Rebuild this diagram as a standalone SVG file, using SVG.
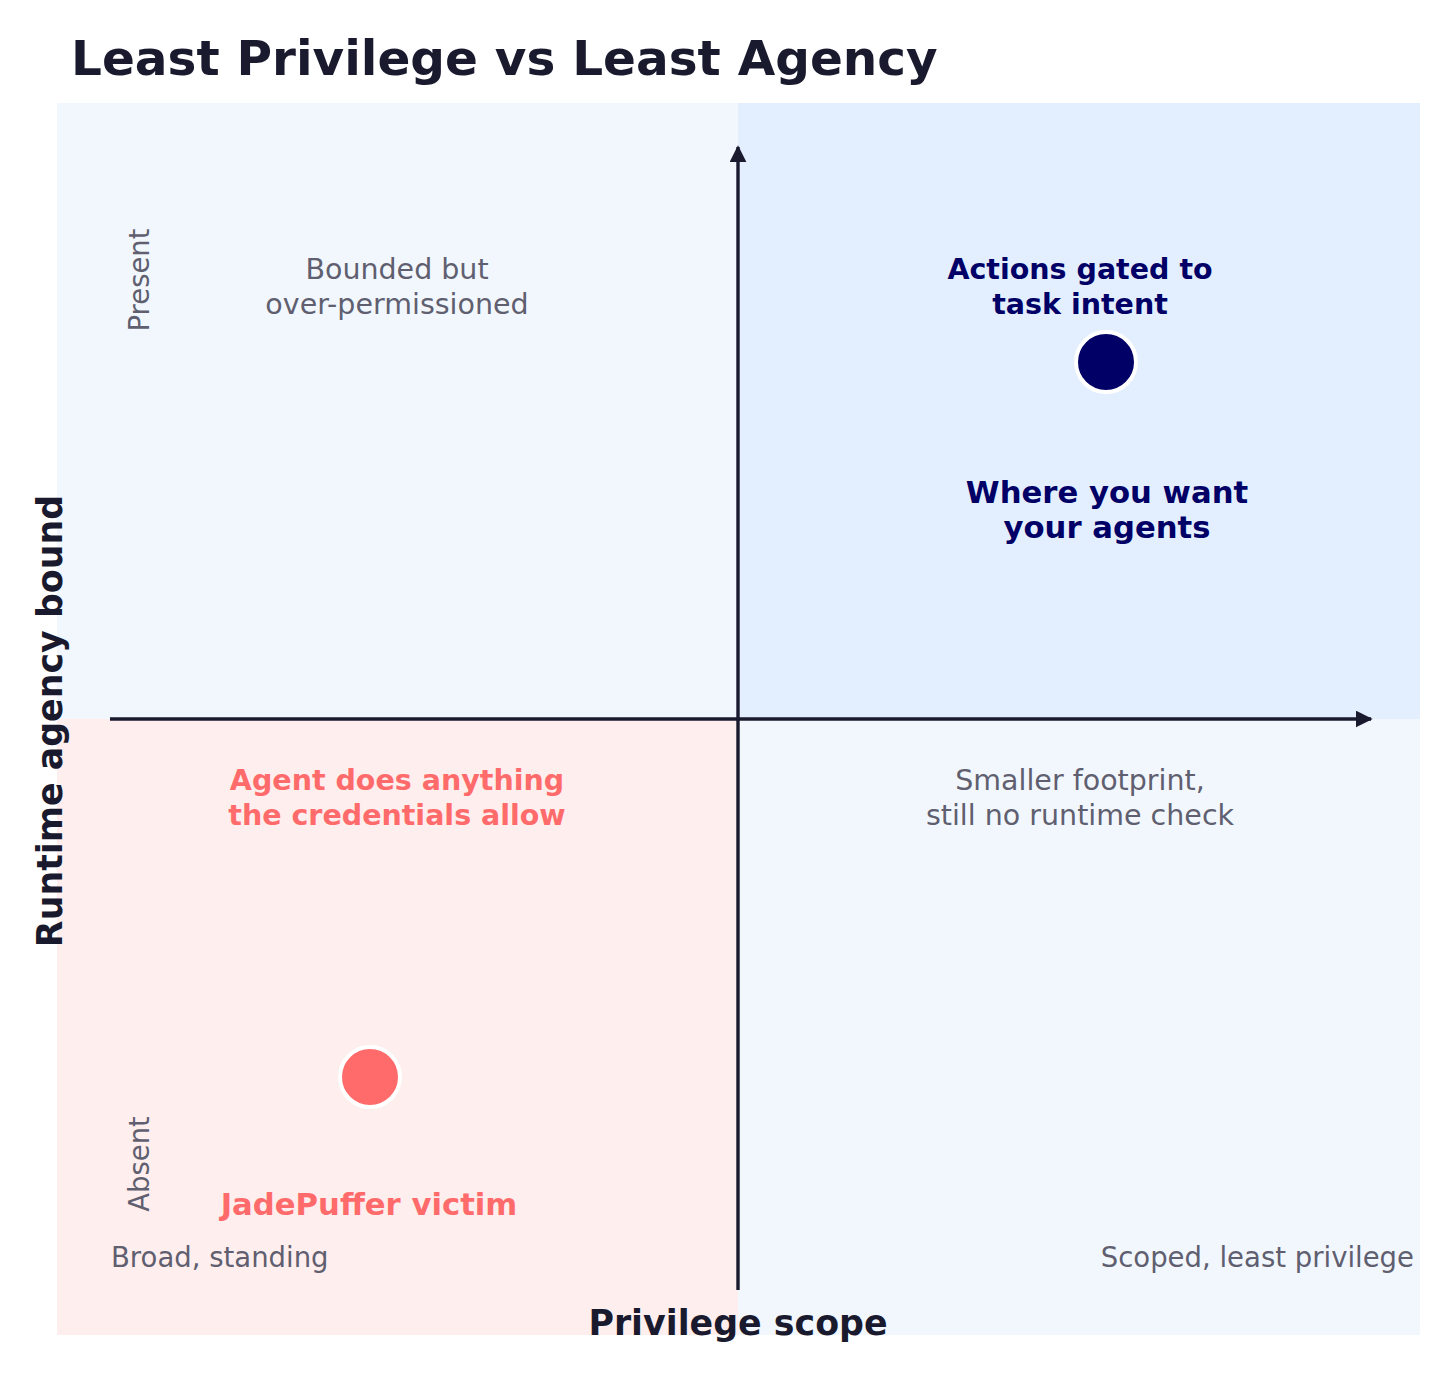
<svg xmlns="http://www.w3.org/2000/svg" width="1456" height="1379" viewBox="0 0 1456 1379">
<style>
text{font-family:"DejaVu Sans","Liberation Sans",sans-serif;}
.g{fill:#5f5f70;font-size:28.5px;}
.t{fill:#5f5f70;font-size:27.5px;}
.nb{fill:#000066;font-size:28.5px;font-weight:bold;}
.rb{fill:#ff6b6b;font-size:28.5px;font-weight:bold;}
.big{font-size:30.7px;}
.ax{fill:#1a1a2e;font-size:34.8px;font-weight:bold;}
.axl{stroke:#1a1a2e;stroke-width:3.4;fill:none;}
</style>
<defs>
<marker id="ah" viewBox="0 0 10 10" refX="9" refY="5" markerWidth="5" markerHeight="5" orient="auto" markerUnits="strokeWidth">
<path d="M0,0 L10,5 L0,10 z" fill="#1a1a2e"/>
</marker>
</defs>
<rect width="1456" height="1379" fill="#ffffff"/>
<g id="quadrants">
<rect x="57" y="103" width="681" height="616" fill="#f2f7fe"/>
<rect x="738" y="103" width="682" height="616" fill="#e3efff"/>
<rect x="57" y="719" width="681" height="616" fill="#ffeeee"/>
<rect x="738" y="719" width="682" height="616" fill="#f2f7fe"/>
</g>
<text x="71" y="75" fill="#1a1a2e" font-size="48.5" font-weight="bold">Least Privilege vs Least Agency</text>
<g id="connectors">
<line class="axl" x1="110" y1="719" x2="1371" y2="719" marker-end="url(#ah)"/>
<line class="axl" x1="738" y1="1290" x2="738" y2="147" marker-end="url(#ah)"/>
</g>
<g id="axis-labels">
<text class="ax" x="738" y="1335" text-anchor="middle">Privilege scope</text>
<text class="ax" transform="translate(62,721) rotate(-90)" text-anchor="middle">Runtime agency bound</text>
<text class="t" transform="translate(149,280) rotate(-90)" text-anchor="middle">Present</text>
<text class="t" transform="translate(149,1164) rotate(-90)" text-anchor="middle">Absent</text>
<text class="t" x="111" y="1267">Broad, standing</text>
<text class="t" x="1414" y="1267" text-anchor="end">Scoped, least privilege</text>
</g>
<g id="q-top-left">
<text class="g" x="397" y="279" text-anchor="middle">Bounded but</text>
<text class="g" x="397" y="314" text-anchor="middle">over-permissioned</text>
</g>
<g id="q-top-right">
<text class="nb" x="1080" y="279" text-anchor="middle">Actions gated to</text>
<text class="nb" x="1080" y="314" text-anchor="middle">task intent</text>
<text class="nb big" x="1107" y="503" text-anchor="middle">Where you want</text>
<text class="nb big" x="1107" y="538" text-anchor="middle">your agents</text>
</g>
<g id="point-target">
<circle cx="1106" cy="362" r="30" fill="#000066" stroke="#ffffff" stroke-width="4"/>
</g>
<g id="q-bottom-left">
<text class="rb" x="397" y="790" text-anchor="middle">Agent does anything</text>
<text class="rb" x="397" y="825" text-anchor="middle">the credentials allow</text>
<text class="rb big" x="369" y="1215" text-anchor="middle">JadePuffer victim</text>
</g>
<g id="point-victim">
<circle cx="370" cy="1077" r="30" fill="#ff6b6b" stroke="#ffffff" stroke-width="4"/>
</g>
<g id="q-bottom-right">
<text class="g" x="1080" y="790" text-anchor="middle">Smaller footprint,</text>
<text class="g" x="1080" y="825" text-anchor="middle">still no runtime check</text>
</g>
</svg>
